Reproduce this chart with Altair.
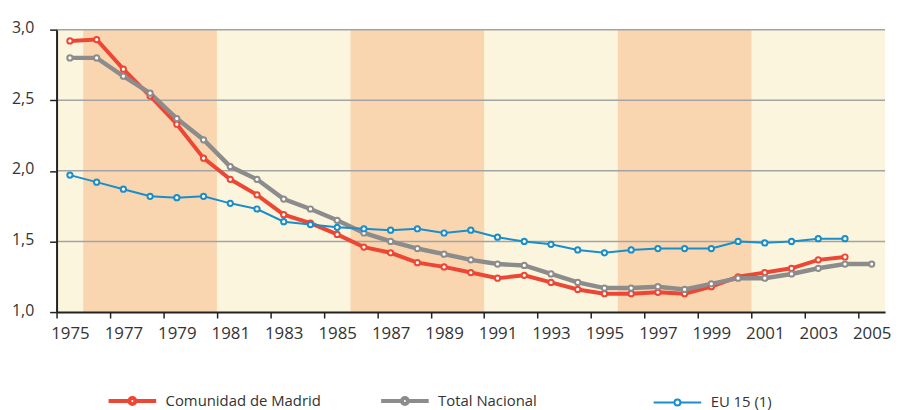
import altair as alt
import pandas as pd

years = list(range(1975, 2006))
series_names = ["Comunidad de Madrid", "Total Nacional", "EU 15 (1)"]
madrid = [2.92, 2.93, 2.72, 2.53, 2.33, 2.09, 1.94, 1.83, 1.69, 1.63,
          1.55, 1.46, 1.42, 1.35, 1.32, 1.28, 1.24, 1.26, 1.21, 1.16,
          1.13, 1.13, 1.14, 1.13, 1.18, 1.25, 1.28, 1.31, 1.37, 1.39]
nacional = [2.80, 2.80, 2.67, 2.55, 2.37, 2.22, 2.03, 1.94, 1.80, 1.73,
            1.65, 1.56, 1.50, 1.45, 1.41, 1.37, 1.34, 1.33, 1.27, 1.21,
            1.17, 1.17, 1.18, 1.16, 1.20, 1.24, 1.24, 1.27, 1.31, 1.34, 1.34]
eu15 = [1.97, 1.92, 1.87, 1.82, 1.81, 1.82, 1.77, 1.73, 1.64, 1.62,
        1.60, 1.59, 1.58, 1.59, 1.56, 1.58, 1.53, 1.50, 1.48, 1.44,
        1.42, 1.44, 1.45, 1.45, 1.45, 1.50, 1.49, 1.50, 1.52, 1.52]
band_starts = [1976, 1986, 1996]
band_ends = [1980, 1990, 2000]
y_ticks = [1.0, 1.5, 2.0, 2.5, 3.0]
grid_values = [1.5, 2.0, 2.5, 3.0]

colors = ["#EE4634", "#8C8C8C", "#1A8DCB"]

rows = []
for name, vals in zip(series_names, [madrid, nacional, eu15]):
    for yr, v in zip(years, vals):
        rows.append({"year": yr, "value": v, "serie": name})
df = pd.DataFrame(rows)

bands = pd.DataFrame({"start": band_starts, "end": band_ends})
grid = pd.DataFrame({"v": grid_values})

FONT = "Open Sans"
xscale = alt.Scale(domain=[years[0] - 0.5, years[-1] + 0.5], nice=False, zero=False)
yscale = alt.Scale(domain=[1, 3], nice=False, zero=False)
cscale = alt.Scale(domain=series_names, range=colors)

boundaries = [y - 0.5 for y in years] + [years[-1] + 0.5]

x_axis = alt.Axis(
    values=boundaries, title=None, grid=False, tickSize=6, tickWidth=1.5,
    tickColor="#222", domainColor="#222", domainWidth=2,
    labelExpr="(datum.value + 0.5) % 2 == 1 ? toString(datum.value + 0.5) : ''",
    labelOffset=13.5, labelFlush=False, labelOverlap=False, labelBound=False,
    labelFont=FONT, labelFontSize=17, labelColor="#333", labelPadding=8, zindex=1,
)
y_axis = alt.Axis(
    values=y_ticks, title=None, grid=False, tickSize=7, tickWidth=1.5,
    tickColor="#222", domainColor="#222", domainWidth=2,
    labelExpr="replace(format(datum.value, '.1f'), '.', ',')",
    labelFont=FONT, labelFontSize=16, labelColor="#333", labelPadding=16,
    labelOffset=-2, zindex=1,
)

rects = alt.Chart(bands).transform_calculate(
    x0="datum.start - 0.5", x1="datum.end + 0.5"
).mark_rect(color="#F9D6B0").encode(
    x=alt.X("x0:Q", scale=xscale, axis=x_axis),
    x2="x1:Q",
)

rules = alt.Chart(grid).mark_rule(color="#A3A3A3", strokeWidth=1.5).encode(
    y=alt.Y("v:Q", scale=yscale, axis=y_axis),
)

legend = alt.Legend(
    title=None, orient="none", legendX=69, legendY=367, direction="horizontal",
    gridAlign="all", columnPadding=52, padding=0,
    symbolType="M-1,0H-0.125M0.125,0H1M0.125,0A0.125,0.125 0 1,1 -0.125,0A0.125,0.125 0 1,1 0.125,0",
    symbolSize=2304, symbolFillColor="white", labelOffset=26,
    symbolStrokeWidth=alt.ExprRef(expr="datum.value === 'EU 15 (1)' ? 2 : 4"),
    labelFont=FONT, labelFontSize=15, labelColor="#333",
)

lines = alt.Chart(df).mark_line().encode(
    x=alt.X("year:Q", scale=xscale),
    y=alt.Y("value:Q", scale=yscale),
    color=alt.Color("serie:N", scale=cscale, legend=legend, sort=series_names),
    strokeWidth=alt.StrokeWidth(
        value=4,
        condition=[
            {"test": "datum.serie === 'EU 15 (1)'", "value": 2},
            {"test": "datum.serie === 'Total Nacional'", "value": 4.5},
        ],
    ),
)

points = alt.Chart(df).mark_point(
    shape="circle", filled=True, fill="white", strokeWidth=2, size=28, opacity=1
).encode(
    x=alt.X("year:Q", scale=xscale),
    y=alt.Y("value:Q", scale=yscale),
    stroke=alt.Stroke("serie:N", scale=cscale, legend=None),
)

chart = alt.layer(rects, rules, lines, points).properties(
    width=836, height=285,
    autosize=alt.AutoSizeParams(type="none"),
    padding={"left": 49, "top": 20, "right": 7, "bottom": 100},
).configure_view(fill="#FCF5DD", stroke=None)

chart.save("out.html", embed_options={"renderer": "svg", "actions": False})
